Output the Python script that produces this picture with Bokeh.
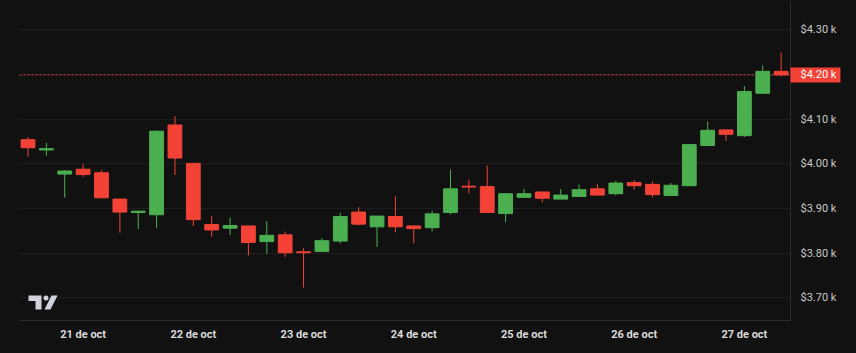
import pandas as pd
from bokeh.plotting import figure
from bokeh.models import (ColumnDataSource, FixedTicker, CustomJSTickFormatter,
                          Label, Range1d, BoxAnnotation)
from bokeh.embed import file_html
from bokeh.resources import INLINE

# ---- data (4h candles, ETH/USD) ----
start_time = "2025-10-20 12:00"
opens = [4054, 4031, 3977, 3988, 3980, 3921, 3891, 3886, 4087, 4001,
         3864, 3856, 3861, 3826, 3841, 3803, 3804, 3827, 3892, 3859,
         3882, 3861, 3857, 3891, 3950, 3949, 3889, 3925, 3937, 3921,
         3927, 3944, 3933, 3958, 3954, 3929, 3951, 4041, 4076, 4063,
         4158, 4207]
highs = [4060, 4047, 3986, 4000, 3986, 3921, 3895, 4075, 4107, 4001,
         3883, 3880, 3861, 3872, 3848, 3811, 3834, 3890, 3903, 3883,
         3927, 3862, 3895, 3987, 3965, 3996, 3934, 3944, 3937, 3944,
         3954, 3954, 3962, 3964, 3960, 3957, 4043, 4095, 4076, 4174,
         4220, 4249]
lows = [4016, 4018, 3924, 3971, 3924, 3846, 3854, 3856, 3975, 3861,
        3837, 3841, 3795, 3798, 3792, 3723, 3804, 3822, 3862, 3814,
        3847, 3822, 3849, 3887, 3934, 3891, 3870, 3925, 3914, 3921,
        3927, 3929, 3929, 3943, 3925, 3929, 3951, 4041, 4051, 4060,
        4158, 4196]
closes = [4036, 4034, 3984, 3976, 3924, 3892, 3894, 4073, 4013, 3875,
          3852, 3862, 3824, 3840, 3801, 3801, 3828, 3882, 3865, 3883,
          3859, 3855, 3888, 3944, 3948, 3891, 3933, 3933, 3923, 3930,
          3942, 3930, 3957, 3951, 3931, 3952, 4043, 4075, 4066, 4162,
          4207, 4199]
day_ticks = ["2025-10-21", "2025-10-22", "2025-10-23", "2025-10-24",
             "2025-10-25", "2025-10-26", "2025-10-27"]
price_ticks = [3700, 3800, 3900, 4000, 4100, 4200, 4300]

UP = "#4caf50"
DOWN = "#f44336"
BG = "#111111"
GRID = "#1e1e1e"
AXIS = "#2c2c2c"

H4 = 4 * 3600 * 1000
times = pd.date_range(start_time, periods=len(opens), freq="4h")
x_ms = [int(t.value // 10**6) for t in times]
colors = [UP if c >= o else DOWN for o, c in zip(opens, closes)]
src = ColumnDataSource(dict(
    x=x_ms, open=opens, close=closes, high=highs, low=lows,
    top=[max(o, c) for o, c in zip(opens, closes)],
    bottom=[min(o, c) for o, c in zip(opens, closes)],
    color=colors))

# visible price-area time span, and extension for the price-scale strip
x0 = x_ms[0] - 0.463 * H4
x1 = x_ms[0] + 41.51 * H4
x_end = x0 + (856 - 19) / 771 * (x1 - x0)
y0, y1 = 3649.3, 4365.6

p = figure(width=856, height=353, output_backend="svg", toolbar_location=None,
           x_axis_type="datetime", y_axis_location="right",
           x_range=Range1d(x0, x_end), y_range=Range1d(y0, y1),
           min_border_left=19, min_border_top=0, min_border_right=0,
           min_border_bottom=33)
p.styles = {"background-color": BG}
p.background_fill_color = BG
p.border_fill_color = BG
p.outline_line_color = None

# grid (covered beyond the price area)
p.xgrid.visible = False
p.ygrid.ticker = FixedTicker(ticks=price_ticks)
p.ygrid.grid_line_color = GRID
p.add_layout(BoxAnnotation(left=x1, right=x_end, fill_color=BG, fill_alpha=1,
                           line_color=None, level="underlay"))

# last price line
last = closes[-1]
p.segment(x0=[x0], y0=[last], x1=[x1], y1=[last], line_color=DOWN,
          line_width=1, line_dash="2 2")

# candles
p.segment(x0="x", y0="high", x1="x", y1="low", line_color="color",
          line_width=1, source=src)
p.vbar(x="x", width=0.75 * H4, top="top", bottom="bottom",
       fill_color="color", line_color="color", source=src)

# axes
tick_ms = [int(pd.Timestamp(d).value // 10**6) for d in day_ticks]
xa = p.xaxis[0]
xa.ticker = FixedTicker(ticks=tick_ms)
xa.formatter = CustomJSTickFormatter(
    code="const d = new Date(tick); return d.getUTCDate() + ' de oct';")
xa.bounds = (x0, x1)
xa.major_tick_out = 0
xa.major_tick_in = 0
xa.minor_tick_out = 0
xa.minor_tick_in = 0
xa.axis_line_color = AXIS
xa.major_label_text_color = "#dcdcdc"
xa.major_label_text_font = "Roboto"
xa.major_label_text_font_style = "bold"
xa.major_label_text_font_size = "11px"
xa.major_label_standoff = 7

ya = p.yaxis[0]
ya.fixed_location = x1
ya.ticker = FixedTicker(ticks=price_ticks)
ya.formatter = CustomJSTickFormatter(
    args=dict(last=last),
    code="if (Math.abs(tick - last) < 40) { return ''; } "
         "return '$' + (tick / 1000).toFixed(2) + ' k';")
ya.major_tick_out = 0
ya.major_tick_in = 0
ya.minor_tick_out = 0
ya.minor_tick_in = 0
ya.axis_line_color = AXIS
ya.major_label_text_color = "#c8c8c8"
ya.major_label_text_font = "Roboto"
ya.major_label_text_font_size = "11px"
ya.major_label_standoff = 10

# last price tag on the price scale
p.add_layout(Label(x=x1, y=last, text="$%.2f k" % (round(last / 10) / 100),
                   text_align="left", text_baseline="middle",
                   text_color="#ffffff", text_font="Roboto",
                   text_font_size="11px", background_fill_color=DOWN,
                   padding=(10, 4, 1, 1)))

# TradingView logo (decoration), positioned in frame pixels
def px(xp, yp):
    return (x0 + (xp - 19) / 771 * (x1 - x0), y1 - yp / 320 * (y1 - y0))

logo_t = [px(*q) for q in [(28, 295), (41, 295), (41, 309), (35, 309), (35, 300.5), (28, 300.5)]]
logo_s = [px(*q) for q in [(44, 309), (50, 309), (57, 295), (51, 295)]]
p.patches(xs=[[a for a, b in logo_t], [a for a, b in logo_s]],
          ys=[[b for a, b in logo_t], [b for a, b in logo_s]],
          fill_color="#d1d4dc", line_color=None)
cx, cy = px(45.5, 297.5)
p.scatter(x=[cx], y=[cy], size=5, fill_color="#d1d4dc", line_color=None)

open("out.html", "w").write(file_html(p, INLINE))
